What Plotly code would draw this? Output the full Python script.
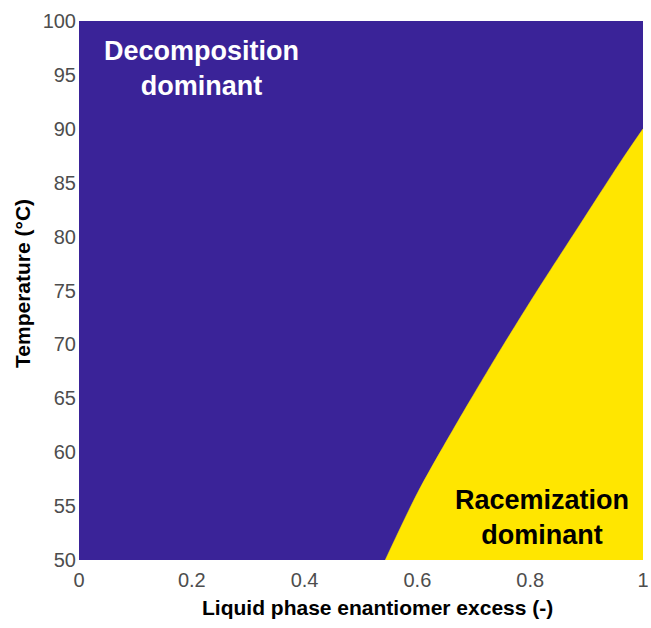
import plotly.graph_objects as go

# Boundary between the two regimes
ee_boundary = [0.543, 0.601, 0.670, 0.738, 0.809, 0.888, 0.961, 1.0]
T_boundary = [50.0, 56.3, 62.7, 68.7, 74.7, 81.1, 87.0, 90.0]

x_range = [0, 1]
y_range = [50, 100]
x_ticks = [0, 0.2, 0.4, 0.6, 0.8, 1]
x_ticklabels = ["0", "0.2", "0.4", "0.6", "0.8", "1"]
y_ticks = [50, 55, 60, 65, 70, 75, 80, 85, 90, 95, 100]

purple = "#3a2398"
yellow = "#ffe600"
title_family = "Liberation Sans Narrow, Liberation Sans, Arial"

fig = go.Figure()
# baseline at the bottom of the axis, then fill up to the boundary curve
fig.add_trace(go.Scatter(x=ee_boundary, y=[y_range[0]] * len(ee_boundary),
                         mode="lines", line=dict(width=0, color=yellow),
                         hoverinfo="skip", showlegend=False))
fig.add_trace(go.Scatter(x=ee_boundary, y=T_boundary, fill="tonexty",
                         fillcolor=yellow, mode="lines",
                         line=dict(width=0.5, color=yellow, shape="spline", smoothing=0.8),
                         hoverinfo="skip", showlegend=False))

fig.add_annotation(x=0.218, y=95.6, xref="x", yref="y",
                   text="<b>Decomposition<br>dominant</b>", showarrow=False,
                   font=dict(family="Liberation Sans, Arial", size=27, color="white"),
                   align="center")
fig.add_annotation(x=0.821, y=53.95, xref="x", yref="y",
                   text="<b>Racemization<br>dominant</b>", showarrow=False,
                   font=dict(family="Liberation Sans, Arial", size=27, color="black"),
                   align="center")

# axis titles (paper coordinates are relative to the plot area)
fig.add_annotation(x=0.530, y=-0.089, xref="paper", yref="paper",
                   text="<b>Liquid phase enantiomer excess (-)</b>", showarrow=False,
                   font=dict(family=title_family, size=21, color="black"),
                   xanchor="center", yanchor="middle")
fig.add_annotation(x=-0.0993, y=0.514, xref="paper", yref="paper",
                   text="<b>Temperature (°C)</b>", showarrow=False, textangle=-90,
                   font=dict(family=title_family, size=21, color="black"),
                   xanchor="center", yanchor="middle")

fig.update_layout(
    width=651, height=628,
    margin=dict(l=79, r=8, t=21, b=68, autoexpand=False),
    paper_bgcolor="white", plot_bgcolor=purple,
    font=dict(family="Liberation Sans, Arial", size=18, color="#4d4d4d"),
    xaxis=dict(range=x_range, tickvals=x_ticks, ticktext=x_ticklabels,
               showgrid=False, zeroline=False, showline=False, ticks="",
               automargin=False, ticklabelstandoff=6,
               tickfont=dict(size=20, color="#4d4d4d")),
    yaxis=dict(range=y_range, tickvals=y_ticks,
               showgrid=False, zeroline=False, showline=False, ticks="",
               automargin=False, ticklabelstandoff=2,
               tickfont=dict(size=20, color="#4d4d4d")),
)

fig.write_html("out.html")
